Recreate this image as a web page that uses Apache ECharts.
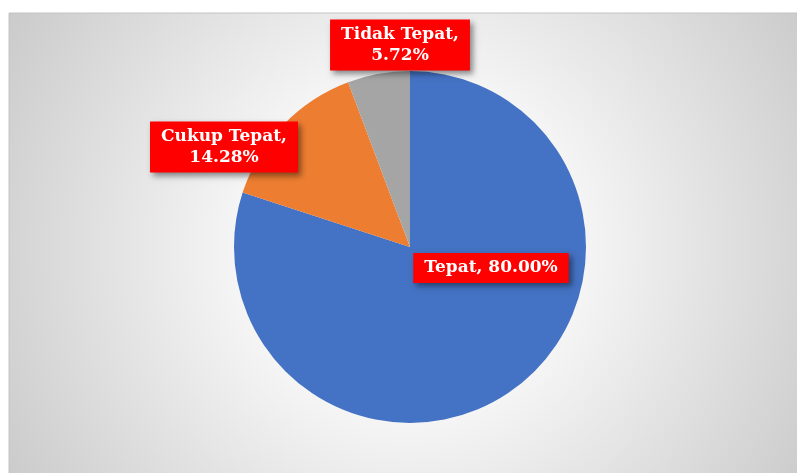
<!DOCTYPE html>
<html>
<head>
<meta charset="utf-8">
<script src="https://cdn.jsdelivr.net/npm/echarts@6/dist/echarts.min.js"></script>
<style>
  html, body { margin: 0; padding: 0; background: #fff; }
  #chart { width: 797px; height: 473px; }
</style>
</head>
<body>
<div id="chart"></div>
<script>
const categories = ['Tepat', 'Cukup Tepat', 'Tidak Tepat'];
const values = [80.00, 14.28, 5.72];
const colors = ['#4472C4', '#ED7D31', '#A5A5A5'];

// where each label box sits (centre)
const labelSpots = [[491, 268], [224, 147], [400, 45]];

const chart = echarts.init(document.getElementById('chart'));

const option = {
  animation: false,
  graphic: [
    {
      type: 'rect',
      shape: { x: 9, y: 13, width: 800, height: 470 },
      style: {
        fill: {
          type: 'radial', x: 0.5, y: 0.5, r: 1.08,
          colorStops: [
            { offset: 0, color: '#ffffff' },
            { offset: 0.3, color: '#f8f8f8' },
            { offset: 1, color: '#c4c4c4' }
          ]
        },
        stroke: '#c4c4c4',
        lineWidth: 1
      },
      z: -10
    }
  ],
  series: [
    {
      type: 'pie',
      center: [410, 247],
      radius: 176,
      startAngle: 90,
      clockwise: true,
      data: categories.map((name, i) => ({
        name: name,
        value: values[i],
        itemStyle: { color: colors[i] }
      })),
      label: {
        show: true,
        formatter: p => {
          const v = p.value.toFixed(2) + '%';
          return p.dataIndex === 0 ? p.name + ', ' + v : p.name + ',\n' + v;
        },
        color: '#ffffff',
        fontFamily: 'DejaVu Serif',
        fontWeight: 'bold',
        fontSize: 17,
        lineHeight: 21,
        align: 'center',
        backgroundColor: '#ff0000',
        padding: [5, 11, 4, 11],
        shadowColor: 'rgba(0,0,0,0.45)',
        shadowBlur: 6,
        shadowOffsetX: 3,
        shadowOffsetY: 3
      },
      labelLine: { show: false },
      labelLayout: params => ({
        x: labelSpots[params.dataIndex][0],
        y: labelSpots[params.dataIndex][1],
        align: 'center',
        verticalAlign: 'middle'
      })
    }
  ]
};

chart.setOption(option);
</script>
</body>
</html>
